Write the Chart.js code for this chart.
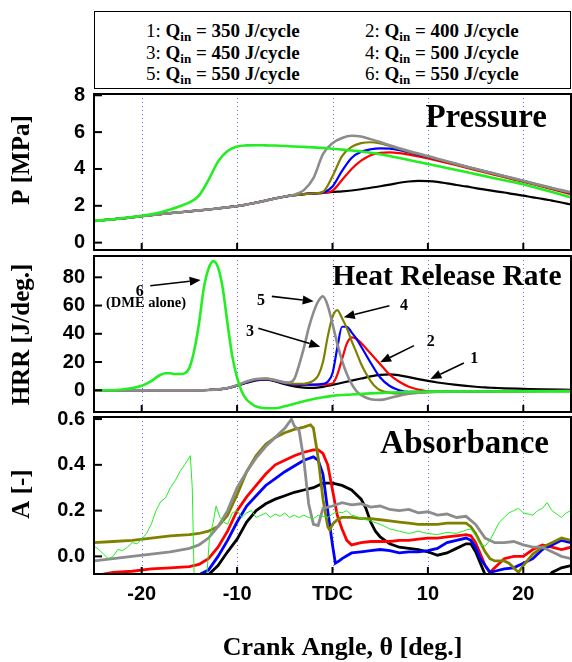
<!DOCTYPE html>
<html><head><meta charset="utf-8">
<script src="https://cdn.jsdelivr.net/npm/chart.js@4.4.1/dist/chart.umd.min.js"></script>
<style>
html,body{margin:0;padding:0;background:#fff;}
#wrap{position:relative;width:572px;height:662px;overflow:hidden;background:#fff;}
canvas{position:absolute;left:0;}
#legend{position:absolute;left:94px;top:11px;width:475px;height:76px;border:1.5px solid #000;font-family:"Liberation Serif","Times New Roman",serif;font-size:19px;color:#000;}
.row{position:absolute;white-space:nowrap;line-height:19px;}
.row b sub{font-size:13px;vertical-align:-4px;line-height:0;}
</style></head><body>
<div id="wrap">
<div id="legend"></div>
<canvas id="cP"></canvas>
<canvas id="cH"></canvas>
<canvas id="cA"></canvas>
</div>
<script>
// ---------- categories / labels ----------
const seriesIds = ['1','2','3','4','5','6'];
const qin = [350, 400, 450, 500, 550, 550];
const xTickValues = [-20, -10, 0, 10, 20];
const xTickLabels = ['-20', '-10', 'TDC', '10', '20'];
const pTicks = [0, 2, 4, 6, 8];
const hrrTicks = [0, 20, 40, 60, 80];
const aTicks = [0, 0.2, 0.4, 0.6];

// ---------- Pressure [MPa] ----------
const pAngle = [-25,-24,-23,-22,-21,-20,-19,-18,-17,-16,-15,-14,-13,-12,-11,-10,-9,-8,-7,-6,-5,-4,-3,-2,-1,0,1,2,3,4,5,6,7,8,9,10,11,12,13,14,15,16,17,18,19,20,21,22,23,24,25];
const p1 = [1.18,1.22,1.27,1.32,1.38,1.44,1.49,1.55,1.6,1.65,1.7,1.75,1.8,1.86,1.92,1.98,2.07,2.17,2.28,2.4,2.5,2.58,2.63,2.67,2.7,2.75,2.78,2.83,2.9,2.98,3.06,3.15,3.25,3.32,3.35,3.34,3.3,3.22,3.13,3.05,2.96,2.88,2.8,2.72,2.63,2.55,2.46,2.38,2.28,2.18,2.07];
const p2 = [1.18,1.22,1.27,1.32,1.38,1.44,1.49,1.55,1.6,1.65,1.7,1.75,1.8,1.86,1.92,1.98,2.07,2.17,2.28,2.4,2.5,2.58,2.63,2.67,2.7,2.82,3.4,4.0,4.45,4.75,4.87,4.9,4.86,4.78,4.68,4.57,4.45,4.33,4.2,4.07,3.94,3.81,3.68,3.55,3.42,3.3,3.17,3.04,2.9,2.77,2.63];
const p3 = [1.18,1.22,1.27,1.32,1.38,1.44,1.49,1.55,1.6,1.65,1.7,1.75,1.8,1.86,1.92,1.98,2.07,2.17,2.28,2.4,2.5,2.58,2.63,2.67,2.72,3.05,3.9,4.6,4.93,5.07,5.12,5.1,5.02,4.9,4.78,4.65,4.52,4.39,4.26,4.13,4.0,3.87,3.74,3.61,3.48,3.35,3.22,3.09,2.96,2.82,2.68];
const p4 = [1.18,1.22,1.27,1.32,1.38,1.44,1.49,1.55,1.6,1.65,1.7,1.75,1.8,1.86,1.92,1.98,2.07,2.17,2.28,2.4,2.5,2.58,2.63,2.67,2.76,3.6,4.7,5.2,5.4,5.45,5.38,5.24,5.08,4.93,4.8,4.67,4.53,4.39,4.25,4.11,3.98,3.85,3.72,3.59,3.46,3.33,3.2,3.07,2.94,2.82,2.7];
const p5 = [1.18,1.22,1.27,1.32,1.38,1.44,1.49,1.55,1.6,1.65,1.7,1.75,1.8,1.86,1.92,1.98,2.07,2.17,2.28,2.4,2.5,2.6,2.85,3.5,4.8,5.4,5.68,5.8,5.76,5.62,5.46,5.29,5.13,4.98,4.84,4.7,4.56,4.42,4.28,4.14,4.01,3.88,3.75,3.62,3.49,3.36,3.23,3.1,2.97,2.85,2.73];
const p6 = [1.18,1.22,1.27,1.33,1.39,1.46,1.54,1.65,1.8,1.98,2.18,2.55,3.4,4.4,4.98,5.22,5.28,5.29,5.28,5.27,5.25,5.22,5.2,5.17,5.14,5.1,5.05,5.0,4.95,4.88,4.8,4.7,4.6,4.49,4.38,4.27,4.16,4.05,3.94,3.83,3.72,3.61,3.5,3.39,3.28,3.17,3.03,2.89,2.75,2.6,2.46];

// ---------- Heat release rate [J/deg.] ----------
const hrrAngle1 = [-25,-14,-13,-12,-11,-10,-9,-8,-7,-6,-5,-4,-3,-2,-1,0,1,2,3,4,5,6,7,8,9,10,11,12,13,14,15,16,17,18,20,22,25];
const hrr1 = [0,0,0.2,0.6,1.5,3.2,5.3,7,7.5,6.3,4.3,2.8,1.9,1.7,2.4,3.8,5.3,6.8,8.3,9.8,10.9,11.3,10.6,9.3,7.9,6.6,5.5,4.6,3.8,3.1,2.5,2.0,1.7,1.4,1.0,0.6,0.3];
const hrrAngle2 = [-25,-14,-13,-12,-11,-10,-9,-8,-7,-6,-5,-4,-3,-2,-1,0,0.5,1,1.5,2,2.5,3,4,5,6,7,8,9,10,12,15,20,25];
const hrr2 = [0,0,0.2,0.6,1.5,3.3,5.6,7.3,7.8,6.8,5,4,3.8,3.8,4,4.8,11,22,33,37.5,36.5,33.5,26,18.5,11,6,2.5,0.5,-0.8,-1,-0.8,-0.6,-0.5];
const hrrAngle3 = [-25,-14,-13,-12,-11,-10,-9,-8,-7,-6,-5,-4,-3,-2,-1,-0.5,0,0.5,1,1.5,2,2.5,3,4,5,6,7,8,10,15,20,25];
const hrr3 = [0,0,0.2,0.6,1.5,3.3,5.6,7.3,7.8,6.8,5,4.2,4,4,4.5,6,12,30,45,45,41,36.5,31,19.5,9,3,0,-1.2,-1.2,-0.8,-0.6,-0.5];
const hrrAngle4 = [-25,-14,-13,-12,-11,-10,-9,-8,-7,-6,-5,-4,-3,-2.5,-2,-1.5,-1,-0.5,0,0.5,1,1.5,2,2.5,3,3.5,4,4.5,5,6,7,8,10,15,20,25];
const hrr4 = [0,0,0.2,0.6,1.6,3.5,6,7.8,8.2,7,5.3,4.6,4.6,5.2,6.8,10.5,20,38,52,56.8,51,44,35,27,18.6,12,6.5,2.5,0,-1.8,-2.2,-2,-1.3,-0.8,-0.6,-0.5];
const hrrAngle5 = [-25,-14,-13,-12,-11,-10,-9,-8,-7,-6,-5,-4.5,-4,-3.5,-3,-2.5,-2,-1.5,-1,-0.5,0,0.5,1,1.5,2,2.5,3,4,5,6,7,8,9,10,12,15,20,25];
const hrr5 = [0,0,0.2,0.6,1.6,3.6,6.2,8,8.3,7.2,5.6,5.5,8,18,30,44,55,63,66.5,60,47,33,21,11.5,4.5,-0.5,-3.5,-6.3,-6.8,-5.5,-3.8,-2.5,-1.8,-1.3,-1,-0.7,-0.5,-0.5];
const hrrAngle6 = [-25,-23,-22,-21,-20,-19,-18.5,-18,-17.5,-17,-16.5,-16,-15.5,-15,-14.5,-14,-13.5,-13,-12.5,-12,-11.5,-11,-10.5,-10,-9.5,-9,-8.5,-8,-7,-6,-5,-4,-3,-2,-1,0,2,4,6,8,10,15,20,25];
const hrr6 = [0,0,0.5,1.5,3.2,6.5,9,11,12,12,11.5,11.5,12,16,28,47,72,86,91.5,87,72,47,24,9,-1,-6.5,-9.5,-11.5,-12.7,-12.7,-11.3,-9.5,-7.8,-6.2,-5,-4,-3,-2.2,-1.6,-1.2,-1,-0.9,-0.8,-0.8];

// HRR call-outs: label text, label point [deg, J/deg], arrow start and arrow tip
const hrrNoteText = ['6', '(DME alone)', '5', '4', '3', '2', '1'];
const hrrNoteAt = [[-20.2, 69.8], [-19.55, 61.4], [-7.5, 63.4], [7.5, 59.5], [-8.66, 41.5], [10.3, 34.4], [14.85, 22.2]];
const hrrArrowFrom = [[-19.1, 74], [-6.36, 66.5], [5.96, 59.9], [-7.78, 43.9], [8.54, 31.6], [13.77, 19.3]];
const hrrArrowTo = [[-13.82, 78.1], [-1.97, 63], [1.18, 51.7], [-1.28, 30.9], [4.99, 19.8], [10.26, 8]];

// ---------- Absorbance [-] ----------
const aAngle1 = [-25,-14,-13,-12,-11,-10,-9,-8,-7,-6,-5,-4,-3,-2,-1,0,1,2,3,3.5,4,4.5,5,6,7,8,9,10,11,12,13,14,14.5,15,15.5,16,17,22,23,24,25];
const a1 = [-0.12,-0.1,-0.08,-0.04,0.02,0.075,0.15,0.2,0.23,0.25,0.265,0.28,0.29,0.3,0.32,0.32,0.31,0.29,0.25,0.21,0.15,0.11,0.085,0.055,0.04,0.035,0.03,0.02,0.005,0.015,0.035,0.055,0.055,0.02,-0.03,-0.08,-0.12,-0.12,-0.07,-0.05,-0.04];
const aAngle2 = [-25,-23,-21,-19,-17,-15,-14,-13,-12,-11,-10,-9,-8,-7,-6,-5,-4,-3,-2,-1.5,-1,-0.5,0,0.5,1,1.5,2,3,4,5,6,7,8,9,10,11,12,13,14,14.5,15,15.5,16,16.5,17,18,19,20,21,22,23,24,25];
const a2 = [-0.085,-0.07,-0.065,-0.055,-0.05,-0.045,-0.035,-0.01,0.04,0.11,0.2,0.26,0.31,0.36,0.4,0.42,0.44,0.455,0.465,0.465,0.45,0.4,0.29,0.18,0.12,0.07,0.05,0.06,0.065,0.065,0.065,0.07,0.07,0.075,0.08,0.08,0.085,0.09,0.095,0.09,0.06,0.01,-0.04,-0.07,-0.05,-0.01,0.0,0.0,0.03,0.05,0.04,0.03,0.04];
const aAngle3 = [-25,-15,-14,-13,-12,-11,-10,-9,-8,-7,-6,-5,-4,-3,-2,-1.5,-1,-0.5,0,0.3,0.7,1,2,3,4,5,6,7,8,9,10,11,12,13,14,14.5,15,15.5,16,16.5,17,18,19,20,21,22,23,24,25];
const a3 = [-0.1,-0.09,-0.08,-0.06,0.0,0.07,0.15,0.22,0.265,0.31,0.34,0.37,0.395,0.42,0.435,0.42,0.36,0.2,0.05,-0.03,-0.02,-0.01,0.015,0.02,0.025,0.03,0.025,0.015,0.02,0.02,0.025,0.035,0.06,0.07,0.08,0.07,0.04,-0.01,-0.04,-0.07,-0.065,-0.055,-0.05,-0.03,-0.01,0.03,0.05,0.07,0.06];
const aAngle4 = [-25,-23,-21,-19,-17,-15,-14,-13,-12,-11,-10,-9,-8,-7,-6,-5,-4,-3,-2.3,-2,-1.5,-1,-0.5,-0.3,0,0.5,1,2,3,4,5,6,7,8,9,10,11,12,13,14,14.5,15,15.5,16,16.5,17,18,18.5,19,19.5,20,21,22,23,24,25];
const a4 = [0.06,0.065,0.07,0.08,0.09,0.095,0.1,0.11,0.13,0.18,0.27,0.37,0.44,0.49,0.52,0.54,0.555,0.565,0.575,0.56,0.43,0.25,0.13,0.115,0.14,0.16,0.17,0.17,0.165,0.165,0.16,0.155,0.15,0.145,0.14,0.14,0.14,0.145,0.145,0.145,0.13,0.1,0.06,0.02,-0.01,-0.02,-0.02,-0.03,-0.05,-0.07,-0.04,0.01,0.04,0.06,0.08,0.07];
const aAngle5 = [-25,-23,-21,-19,-17,-15,-14,-13,-12,-11,-10,-9,-8,-7,-6,-5,-4.3,-4,-3.5,-3,-2.5,-2,-1.5,-1,0,1,2,3,4,5,6,7,8,9,10,11,12,13,14,15,16,17,18,19,20,21,22,23,24,25];
const a5 = [-0.02,-0.01,0.0,0.01,0.02,0.035,0.05,0.08,0.13,0.2,0.3,0.37,0.43,0.48,0.52,0.56,0.6,0.57,0.55,0.42,0.23,0.14,0.135,0.21,0.22,0.235,0.225,0.23,0.215,0.22,0.205,0.2,0.205,0.19,0.195,0.18,0.185,0.17,0.175,0.14,0.08,0.06,0.06,0.065,0.05,0.04,0.04,0.02,0.0,-0.01];
const aAngle6 = [-25,-24.5,-24,-23.5,-23,-22.5,-22,-21.5,-21,-20.5,-20,-19.5,-19,-18.5,-18,-17.5,-17,-16.5,-16,-15.5,-15.2,-14.9,-14.7,-14.5,-13.2,-12.9,-12.5,-12.2,-11.8,-11.4,-11,-10.5,-10,-9.5,-9,-8.5,-8,-7.5,-7,-6.5,-6,-5.5,-5,-4.5,-4,-3.5,-3,-2.5,-2,-1.5,-1,-0.5,0,0.5,1,1.5,2,2.5,3,4,5,6,7,8,9,10,11,12,13,14,14.5,15,15.5,16,16.5,17,17.5,18,18.5,19,19.5,20,20.5,21,21.5,22,22.5,23,23.5,24,24.5,25];
const a6 = [0.045,0.03,0.01,-0.01,0.0,0.03,0.025,0.04,0.06,0.055,0.075,0.1,0.14,0.2,0.24,0.255,0.3,0.33,0.37,0.4,0.42,0.44,0.3,-0.1,-0.1,0.08,0.15,0.22,0.17,0.15,0.14,0.19,0.2,0.17,0.19,0.2,0.17,0.18,0.19,0.17,0.185,0.175,0.19,0.17,0.18,0.17,0.18,0.17,0.165,0.18,0.175,0.17,0.185,0.195,0.19,0.2,0.18,0.175,0.165,0.155,0.14,0.12,0.11,0.1,0.11,0.1,0.095,0.105,0.1,0.115,0.12,0.09,0.05,0.045,0.07,0.11,0.15,0.17,0.19,0.2,0.21,0.19,0.185,0.18,0.2,0.21,0.235,0.2,0.185,0.17,0.19,0.2];

// ---------- styles ----------
const colors = ['#000000', '#ff0000', '#0000ff', '#808000', '#8c8c8c', '#22ee22'];
const drawOrder = [5, 4, 3, 2, 1, 0];
const serif = '"Liberation Serif","Times New Roman",serif';
const sans = '"Liberation Sans",Arial,sans-serif';
const tickFont = { family: sans, weight: 'bold', size: 20 };

// legend box (real text)
const legendHost = document.getElementById('legend');
seriesIds.forEach((id, i) => {
  const d = document.createElement('div');
  d.className = 'row';
  d.style.left = (i % 2 ? 270 : 51) + 'px';
  d.style.top = (9 + Math.floor(i / 2) * 21.5) + 'px';
  d.innerHTML = id + ': <b>Q<sub>in</sub> = ' + qin[i] + ' J/cycle</b>';
  legendHost.appendChild(d);
});

function series(angles, values, i, width, smooth) {
  return {
    data: angles.map((a, k) => ({ x: a, y: values[k] })),
    borderColor: colors[i], backgroundColor: colors[i], borderWidth: width,
    pointRadius: 0, fill: false, order: drawOrder[i], clip: 0,
    tension: 0, cubicInterpolationMode: smooth ? 'monotone' : 'default'
  };
}

const framePlugin = {
  id: 'frame',
  beforeDatasetsDraw(chart) {
    const { ctx, chartArea: a } = chart;
    const x = chart.scales.x;
    ctx.save();
    ctx.strokeStyle = 'rgba(90,90,255,0.9)';
    ctx.lineWidth = 1;
    ctx.setLineDash([1, 3]);
    xTickValues.forEach(v => {
      const px = Math.round(x.getPixelForValue(v)) + 0.5;
      ctx.beginPath(); ctx.moveTo(px, a.top); ctx.lineTo(px, a.bottom); ctx.stroke();
    });
    ctx.restore();
  },
  afterDatasetsDraw(chart, args, opts) {
    const { ctx, chartArea: a } = chart;
    const x = chart.scales.x, y = chart.scales.y;
    ctx.save();
    ctx.setLineDash([]);
    ctx.strokeStyle = '#000';
    ctx.lineWidth = 2;
    ctx.strokeRect(a.left, a.top, a.right - a.left, a.bottom - a.top);
    xTickValues.forEach(v => {
      const px = x.getPixelForValue(v);
      ctx.beginPath(); ctx.moveTo(px, a.bottom); ctx.lineTo(px, a.bottom - 7); ctx.stroke();
    });
    y.ticks.forEach(t => {
      const py = y.getPixelForValue(t.value);
      ctx.beginPath(); ctx.moveTo(a.left, py); ctx.lineTo(a.left + 8, py); ctx.stroke();
    });
    ctx.fillStyle = '#000';
    ctx.font = 'bold ' + opts.size + 'px ' + serif;
    ctx.textAlign = 'right';
    ctx.textBaseline = 'alphabetic';
    ctx.fillText(opts.title, a.right - opts.right, a.top + opts.base);
    if (opts.xTitle) {
      ctx.font = 'bold 26px ' + serif;
      ctx.textAlign = 'center';
      ctx.textBaseline = 'middle';
      ctx.fillText(opts.xTitle, (a.left + a.right) / 2 + 10, a.bottom + 74);
    }
    // rotated y-axis title
    ctx.translate(22.5, a.top + opts.yMid);
    ctx.rotate(-Math.PI / 2);
    ctx.font = 'bold 25px ' + serif;
    ctx.textAlign = 'center';
    ctx.textBaseline = 'middle';
    ctx.fillText(opts.yTitle, 0, 0);
    ctx.restore();
  }
};
Chart.register(framePlugin);

const notesPlugin = {
  id: 'notes',
  afterDatasetsDraw(chart) {
    const { ctx } = chart;
    const x = chart.scales.x, y = chart.scales.y;
    ctx.save();
    ctx.fillStyle = '#000'; ctx.strokeStyle = '#000';
    ctx.textAlign = 'center'; ctx.textBaseline = 'middle';
    hrrNoteText.forEach((t, i) => {
      ctx.font = 'bold ' + (t.length > 2 ? 14.5 : 16) + 'px ' + serif;
      ctx.fillText(t, x.getPixelForValue(hrrNoteAt[i][0]), y.getPixelForValue(hrrNoteAt[i][1]));
    });
    hrrArrowFrom.forEach((f, i) => {
      const x0 = x.getPixelForValue(f[0]), y0 = y.getPixelForValue(f[1]);
      const x1 = x.getPixelForValue(hrrArrowTo[i][0]), y1 = y.getPixelForValue(hrrArrowTo[i][1]);
      const ang = Math.atan2(y1 - y0, x1 - x0);
      const L = 11, W = 4.5;
      const bx = x1 - L * Math.cos(ang), by = y1 - L * Math.sin(ang);
      ctx.lineWidth = 1.6;
      ctx.beginPath(); ctx.moveTo(x0, y0); ctx.lineTo(bx, by); ctx.stroke();
      ctx.beginPath(); ctx.moveTo(x1, y1);
      ctx.lineTo(bx - W * Math.sin(ang), by + W * Math.cos(ang));
      ctx.lineTo(bx + W * Math.sin(ang), by - W * Math.cos(ang));
      ctx.closePath(); ctx.fill();
    });
    ctx.restore();
  }
};

function makeChart(canvas, datasets, o) {
  return new Chart(canvas, {
    type: 'line',
    data: { datasets },
    options: {
      responsive: false, animation: false, devicePixelRatio: 1, events: [],
      layout: { padding: { top: 4, right: 1, left: 0, bottom: 0 } },
      plugins: { legend: { display: false }, tooltip: { enabled: false }, frame: o.frame },
      scales: {
        x: {
          type: 'linear', min: -25, max: 25,
          grid: { display: false, drawTicks: false }, border: { display: false },
          afterBuildTicks: s => { s.ticks = xTickValues.map(v => ({ value: v })); },
          afterFit: s => { s.height = o.xHeight; },
          ticks: { display: o.showX, padding: 8, autoSkip: false, maxRotation: 0, color: '#000', font: tickFont,
                   callback: (v, idx) => xTickLabels[idx] },
          title: { display: false }
        },
        y: {
          type: 'linear', min: o.min, max: o.max,
          grid: { display: false, drawTicks: false }, border: { display: false },
          afterBuildTicks: s => { s.ticks = o.ticks.map(v => ({ value: v })); },
          afterFit: s => { s.width = 94; },
          ticks: { padding: 9, color: '#000', font: tickFont, callback: o.fmt },
          title: { display: false }
        }
      }
    },
    plugins: o.extra || []
  });
}

// place each panel so its plot area lands on the wanted rows of the page
function build(id, makeSets, o) {
  const canvas = document.getElementById(id);
  let top = o.areaTop - 20, h = (o.areaBottom - o.areaTop) + 30 + o.xHeight;
  let chart = null;
  for (let k = 0; k < 5; k++) {
    const hh = Math.round(h);
    canvas.width = 572; canvas.height = hh;
    canvas.style.width = '572px'; canvas.style.height = hh + 'px';
    canvas.style.top = top + 'px';
    chart = makeChart(canvas, makeSets(), o);
    const a = chart.chartArea;
    const dTop = o.areaTop - (top + a.top);
    const dH = (o.areaBottom - o.areaTop) - (a.bottom - a.top);
    if (Math.abs(dTop) < 0.5 && Math.abs(dH) < 0.5) break;
    if (k === 4) break;
    chart.destroy();
    top += dTop; h += dH;
  }
  return chart;
}

build('cP', () => [
  series(pAngle, p1, 0, 2.2, true), series(pAngle, p2, 1, 2.2, true), series(pAngle, p3, 2, 2.2, true),
  series(pAngle, p4, 3, 2.2, true), series(pAngle, p5, 4, 2.6, true), series(pAngle, p6, 5, 2.6, true)
], { areaTop: 94, areaBottom: 250, xHeight: 4, showX: false, min: -0.4, max: 8.07, ticks: pTicks, fmt: v => String(v),
     frame: { title: 'Pressure', size: 33, right: 24, base: 33, yTitle: 'P [MPa]', yMid: 66 } });

build('cH', () => [
  series(hrrAngle1, hrr1, 0, 2.2, true), series(hrrAngle2, hrr2, 1, 2.2, true), series(hrrAngle3, hrr3, 2, 2.2, true),
  series(hrrAngle4, hrr4, 3, 2.2, true), series(hrrAngle5, hrr5, 4, 2.6, true), series(hrrAngle6, hrr6, 5, 2.6, true)
], { areaTop: 256, areaBottom: 412, xHeight: 4, showX: false, min: -15.4, max: 95.1, ticks: hrrTicks, fmt: v => String(v),
     frame: { title: 'Heat Release Rate', size: 29.5, right: 9.5, base: 29, yTitle: 'HRR [J/deg.]', yMid: 78.5 }, extra: [notesPlugin] });

build('cA', () => [
  series(aAngle1, a1, 0, 2.8, false), series(aAngle2, a2, 1, 2.8, false), series(aAngle3, a3, 2, 2.8, false),
  series(aAngle4, a4, 3, 2.8, false), series(aAngle5, a5, 4, 2.8, false), series(aAngle6, a6, 5, 1, false)
], { areaTop: 417, areaBottom: 574, xHeight: 88, showX: true, min: -0.077, max: 0.609, ticks: aTicks, fmt: v => v.toFixed(1),
     frame: { title: 'Absorbance', size: 33, right: 22, base: 35.5, yTitle: 'A [-]', yMid: 77, xTitle: 'Crank Angle, θ [deg.]' } });
</script>
</body></html>
